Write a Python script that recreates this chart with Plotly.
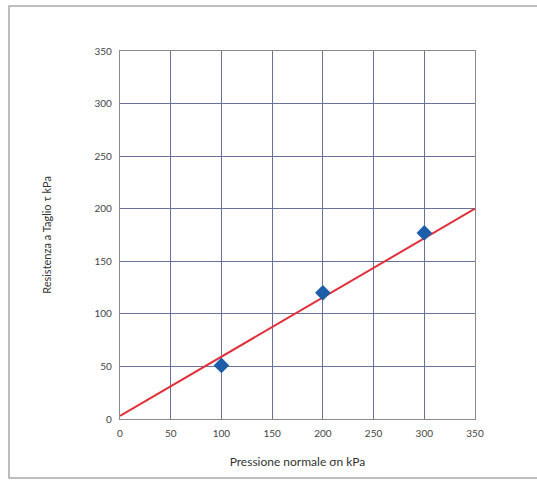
import plotly.graph_objects as go

# Data
sigma_n = [100, 200, 300]          # kPa
tau = [51, 120, 177]               # kPa
fit_x = [0, 350]
fit_y = [3, 200]

x_ticks = [0, 50, 100, 150, 200, 250, 300, 350]
y_ticks = [0, 50, 100, 150, 200, 250, 300, 350]

fig = go.Figure()
fig.add_trace(go.Scatter(
    x=fit_x, y=fit_y, mode="lines",
    line=dict(color="#e0303a", width=2), showlegend=False, hoverinfo="skip"))
fig.add_trace(go.Scatter(
    x=sigma_n, y=tau, mode="markers",
    marker=dict(symbol="diamond", size=12, color="#1c5ea8"),
    showlegend=False))

W, H = 537, 481
L, R, T, B = 120, 475, 51, 419
pw, ph = R - L, B - T

def px(p):
    return (p - L) / pw

def py(p):
    return (B - p) / ph

fig.add_shape(type="rect", xref="paper", yref="paper",
              x0=px(9), x1=px(560), y0=py(478), y1=py(6),
              line=dict(color="#a8a8a8", width=1.5), layer="below")

axis_common = dict(
    showgrid=True, gridcolor="#6a7196", gridwidth=1.3,
    zeroline=False, showline=True, linecolor="#8a8a8a", linewidth=1.3,
    mirror=True, ticks="", ticklabelstandoff=5,
    tickfont=dict(family="Lato", size=10, color="#444444"),
)

fig.update_xaxes(range=[0, 350], tickvals=x_ticks, ticktext=[str(v) for v in x_ticks],
                 title=dict(text="Pressione normale σn kPa", font=dict(family="Lato", size=12, color="#333333"), standoff=19),
                 **axis_common)
fig.update_yaxes(range=[0, 350], tickvals=y_ticks, ticktext=[str(v) for v in y_ticks],
                 title=dict(text="Resistenza a Taglio τ kPa", font=dict(family="Lato", size=11, color="#333333"), standoff=40),
                 **axis_common)

fig.update_layout(
    width=W, height=H,
    margin=dict(l=L, r=W - R, t=T, b=H - B, autoexpand=False),
    paper_bgcolor="white", plot_bgcolor="white",
)

fig.write_html("out.html")
